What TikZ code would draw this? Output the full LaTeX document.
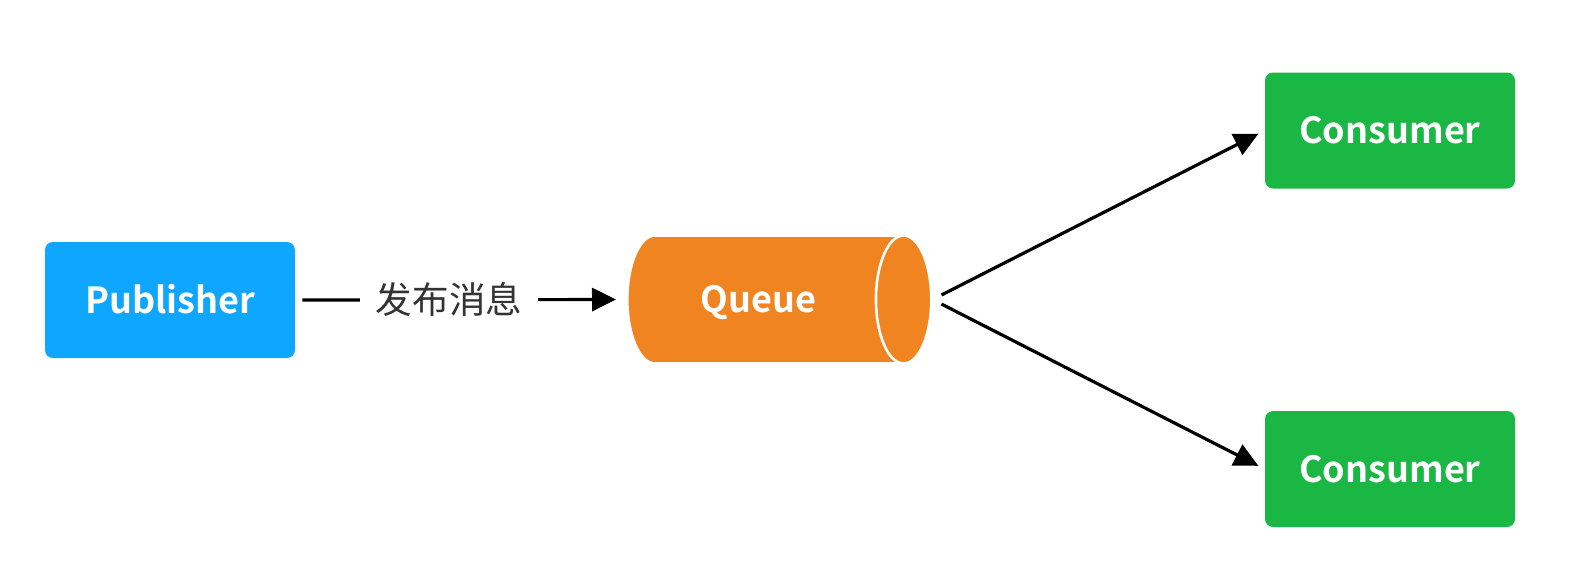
\documentclass[tikz,border=0pt]{standalone}
\usepackage{fontspec}
\setmainfont{Noto Sans CJK SC}[BoldFont={Noto Sans CJK SC Bold}]
\usepackage{tikz}
\usetikzlibrary{arrows.meta, positioning, shapes.geometric}

\definecolor{pubblue}{RGB}{14,166,255}
\definecolor{consgreen}{RGB}{27,183,68}
\definecolor{queueorange}{RGB}{239,132,32}
\definecolor{labelgray}{RGB}{51,51,51}

\begin{document}
\begin{tikzpicture}[x=0.5pt, y=-0.5pt,
    box/.style={rectangle, rounded corners=4pt, minimum width=125pt, minimum height=58pt, text height=15.4pt, text depth=2pt, text=white, font=\fontsize{18}{21}\selectfont\bfseries},
    queuebox/.style={cylinder, shape aspect=1.15, minimum height=152pt, minimum width=64pt, draw=white, line width=1.3pt, text height=15.4pt, text depth=2pt,
        cylinder uses custom fill, cylinder body fill=queueorange, cylinder end fill=queueorange, text=white, font=\fontsize{18}{21}\selectfont\bfseries},
    flow/.style={line width=1.6pt, -{Triangle[length=12pt, width=11.5pt]}}]

    \useasboundingbox (0,0) rectangle (1574,564);

    \node[box, fill=pubblue] (pub) at (170,300) {Publisher};
    \node[queuebox, anchor=west] (queue) at (626,299.5) {Queue};
    \node[box, fill=consgreen] (cons1) at (1390,130.5) {Consumer};
    \node[box, fill=consgreen] (cons2) at (1390,469) {Consumer};

    \draw[flow, shorten <=3.5pt, shorten >=5pt] (pub.east) -- node[pos=0.465, fill=white, inner xsep=8pt, text=labelgray, font=\fontsize{18.3}{20}\selectfont] {发布消息} (queue.west);
    \draw[flow, shorten <=5pt, shorten >=3.5pt] (queue.east) -- (cons1.west);
    \draw[flow, shorten <=5pt, shorten >=3.5pt] (queue.east) -- (cons2.west);
\end{tikzpicture}
\end{document}
